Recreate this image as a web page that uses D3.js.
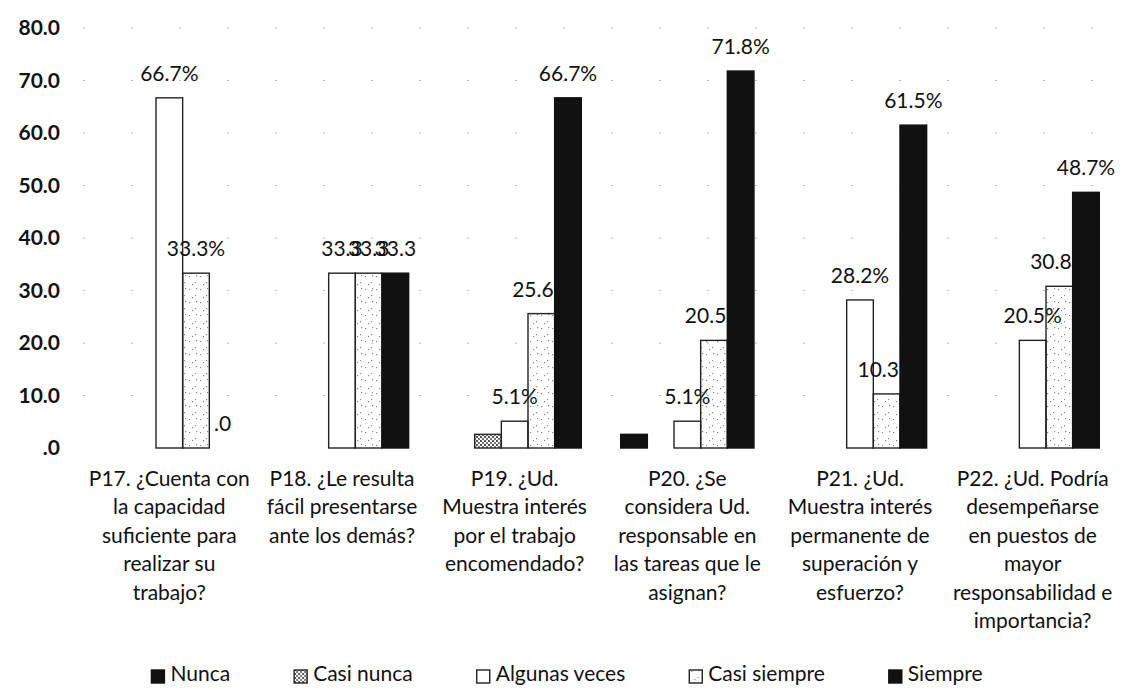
<!DOCTYPE html>
<html>
<head>
<meta charset="utf-8">
<script src="https://cdn.jsdelivr.net/npm/d3@7"></script>
<style>
  body { margin: 0; background: #fff; }
  svg { display: block; font-family: Lato, "Open Sans", sans-serif; }
</style>
</head>
<body>
<svg id="chart" width="1125" height="690"></svg>
<script>
// Survey items (x categories), one line per array entry
const categories = [
  ["P17. ¿Cuenta con", "la capacidad", "suficiente para", "realizar su", "trabajo?"],
  ["P18. ¿Le resulta", "fácil presentarse", "ante los demás?"],
  ["P19. ¿Ud.", "Muestra interés", "por el trabajo", "encomendado?"],
  ["P20. ¿Se", "considera Ud.", "responsable en", "las tareas que le", "asignan?"],
  ["P21. ¿Ud.", "Muestra interés", "permanente de", "superación y", "esfuerzo?"],
  ["P22. ¿Ud. Podría", "desempeñarse", "en puestos de", "mayor", "responsabilidad e", "importancia?"]
];

const seriesNames = ["Nunca", "Casi nunca", "Algunas veces", "Casi siempre", "Siempre"];

// Percentage of answers per item
const nunca        = [0, 0, 0, 2.6, 0, 0];
const casiNunca    = [0, 0, 2.6, 0, 0, 0];
const algunasVeces = [66.7, 33.3, 5.1, 5.1, 28.2, 20.5];
const casiSiempre  = [33.3, 33.3, 25.6, 20.5, 10.3, 30.8];
const siempre      = [0, 33.3, 66.7, 71.8, 61.5, 48.7];

// Data label format per bar: "pct" -> 66.7%, "num" -> 33.3 / .0, "" -> no label
const nuncaLbl        = ["", "", "", "", "", ""];
const casiNuncaLbl    = ["", "", "", "", "", ""];
const algunasVecesLbl = ["pct", "num", "pct", "pct", "pct", "pct"];
const casiSiempreLbl  = ["pct", "num", "pct", "pct", "pct", "pct"];
const siempreLbl      = ["num", "num", "pct", "pct", "pct", "pct"];

const yTicks = [0, 10, 20, 30, 40, 50, 60, 70, 80];

const seriesValues = [nunca, casiNunca, algunasVeces, casiSiempre, siempre];
const seriesLabels = [nuncaLbl, casiNuncaLbl, algunasVecesLbl, casiSiempreLbl, siempreLbl];

const svg = d3.select("#chart");

// ---- patterns ----
const defs = svg.append("defs");
const pCN = defs.append("pattern").attr("id", "pat-cn")
  .attr("patternUnits", "userSpaceOnUse").attr("width", 4).attr("height", 4);
pCN.append("rect").attr("width", 4).attr("height", 4).attr("fill", "#fff");
pCN.append("rect").attr("width", 2).attr("height", 2).attr("fill", "#555");
pCN.append("rect").attr("x", 2).attr("y", 2).attr("width", 2).attr("height", 2).attr("fill", "#777");

const pCS = defs.append("pattern").attr("id", "pat-cs")
  .attr("patternUnits", "userSpaceOnUse").attr("width", 11).attr("height", 13);
[[2, 3], [8, 9], [5, 11], [9, 2]].forEach(([cx, cy]) =>
  pCS.append("rect").attr("x", cx).attr("y", cy).attr("width", 1.2).attr("height", 1.2).attr("fill", "#888"));

const seriesStyle = [
  { fill: "#111", stroke: "#111" },
  { fill: "url(#pat-cn)", stroke: "#222" },
  { fill: "#fff", stroke: "#222" },
  { fill: "url(#pat-cs)", stroke: "#222" },
  { fill: "#111", stroke: "#111" }
];

// ---- scales ----
const x0 = d3.scaleBand()
  .domain(d3.range(categories.length))
  .range([83, 1119])
  .paddingInner(0.228)
  .paddingOuter(0.114);

const x1 = d3.scaleBand()
  .domain(d3.range(seriesNames.length))
  .range([0, x0.bandwidth()]);

const y = d3.scaleLinear().domain([0, 80]).range([448, 28]);

const fmtNum = v => d3.format(".1f")(v).replace(/^0\./, ".");
const fmtLabel = (v, kind) => kind === "pct" ? d3.format(".1f")(v) + "%" : fmtNum(v);

// ---- faint gridlines ----
svg.append("g")
  .selectAll("line")
  .data(yTicks.filter(t => t > 0))
  .join("line")
  .attr("x1", 83).attr("x2", 1119)
  .attr("y1", d => y(d)).attr("y2", d => y(d))
  .attr("stroke", "#bbb")
  .attr("stroke-width", 1.2)
  .attr("stroke-dasharray", "2 46");

// ---- y axis (labels only) ----
const yAxis = d3.axisLeft(y).tickValues(yTicks).tickFormat(fmtNum).tickSize(0).tickPadding(0);
const yg = svg.append("g").attr("transform", "translate(60,0)").call(yAxis);
yg.select(".domain").remove();
yg.selectAll("text")
  .attr("font-family", "Lato, sans-serif")
  .attr("font-size", 21)
  .attr("font-weight", "bold")
  .attr("fill", "#111");

// ---- bars and data labels, series by series ----
seriesValues.forEach((vals, s) => {
  const g = svg.append("g").attr("class", "series-" + s);
  const st = seriesStyle[s];
  g.selectAll("rect")
    .data(vals.map((v, i) => ({ v, i })).filter(d => d.v > 0))
    .join("rect")
    .attr("x", d => x0(d.i) + x1(s))
    .attr("y", d => y(d.v))
    .attr("width", x1.bandwidth())
    .attr("height", d => y(0) - y(d.v))
    .attr("fill", st.fill)
    .attr("stroke", st.stroke)
    .attr("stroke-width", 1.4);

  g.selectAll("text")
    .data(vals.map((v, i) => ({ v, i, kind: seriesLabels[s][i] })).filter(d => d.kind))
    .join("text")
    .attr("x", d => x0(d.i) + x1(s) + x1.bandwidth() / 2)
    .attr("y", d => y(d.v) - 17)
    .attr("text-anchor", "middle")
    .attr("font-size", 21)
    .attr("fill", "#111")
    .text(d => fmtLabel(d.v, d.kind));
});

// ---- category labels ----
const cat = svg.append("g")
  .selectAll("text")
  .data(categories)
  .join("text")
  .attr("x", (d, i) => x0(i) + x0.bandwidth() / 2)
  .attr("y", 486)
  .attr("text-anchor", "middle")
  .attr("font-size", 21)
  .attr("fill", "#111");
cat.selectAll("tspan")
  .data(d => d)
  .join("tspan")
  .attr("x", function () { return d3.select(this.parentNode).attr("x"); })
  .attr("dy", (d, j) => j === 0 ? 0 : 28.4)
  .text(d => d);

// ---- legend ----
const leg = svg.append("g");
const items = leg.selectAll("g").data(seriesNames).join("g");
items.append("rect")
  .attr("width", 13).attr("height", 13)
  .attr("y", -11)
  .attr("fill", (d, i) => seriesStyle[i].fill)
  .attr("stroke", (d, i) => seriesStyle[i].stroke)
  .attr("stroke-width", 1.4);
items.append("text")
  .attr("x", 19)
  .attr("font-size", 21)
  .attr("fill", "#111")
  .text(d => d);
let cx = 0;
const gap = 64;
const widths = [];
items.each(function () {
  widths.push(19 + d3.select(this).select("text").node().getComputedTextLength());
});
const total = d3.sum(widths) + gap * (widths.length - 1);
cx = 567 - total / 2;
items.attr("transform", (d, i) => {
  const t = `translate(${cx},681)`;
  cx += widths[i] + gap;
  return t;
});
</script>
</body>
</html>
